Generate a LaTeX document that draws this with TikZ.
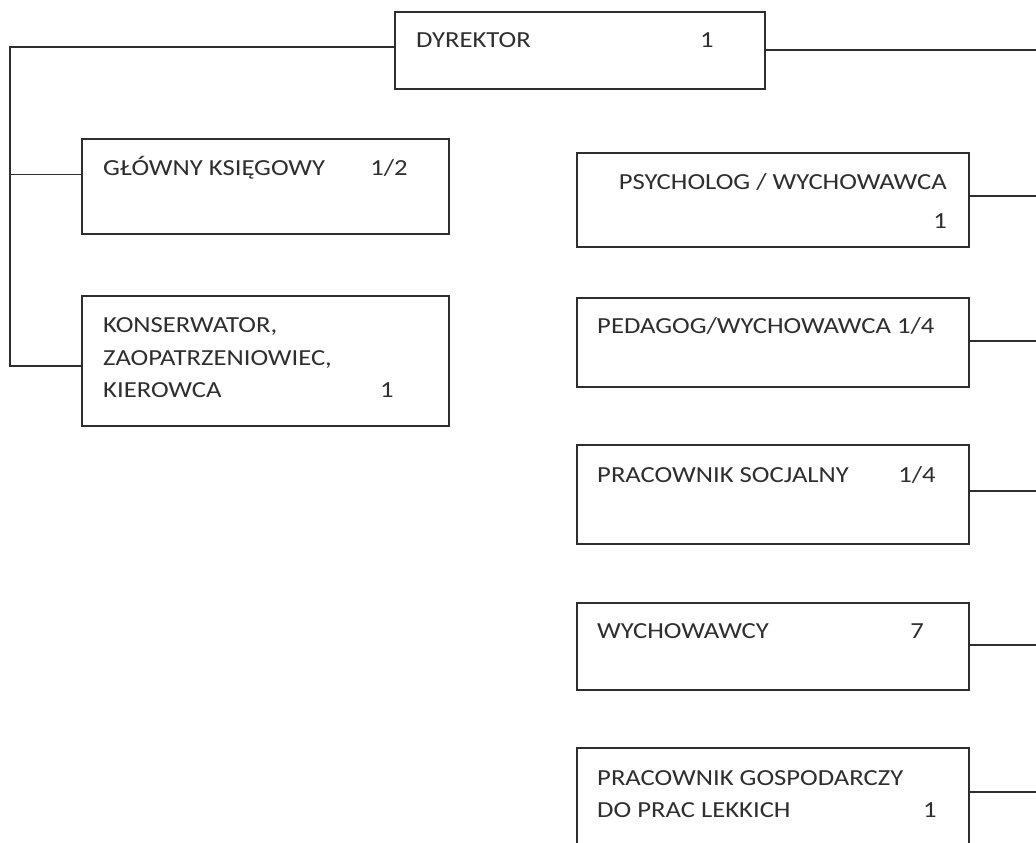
\documentclass[tikz,border=0pt]{standalone}
\usepackage{fontspec}
\setmainfont{Carlito}[FakeStretch=1.16]
\usetikzlibrary{positioning,calc}
\tikzset{>=latex}
\definecolor{ink}{HTML}{2E2E2E}

\begin{document}
\begin{tikzpicture}[x=1pt,y=-1pt,
    box/.style={draw=ink,line width=1.6pt,anchor=north west,inner sep=0pt},
    lbl/.style={anchor=base west,inner sep=0pt,text=ink,font=\fontsize{23}{32}\selectfont},
    num/.style={lbl,anchor=base},
    conn/.style={draw=ink,line width=1.6pt}]
  \useasboundingbox (0,0) rectangle (1036,843);
  \fill[white] (0,0) rectangle (1036,843);
  % boxes
  \node[box,minimum width=370,minimum height=77] (dyr) at (394,11) {};
  \node[box,minimum width=367,minimum height=95] (ksieg) at (81,138) {};
  \node[box,minimum width=367,minimum height=130] (kons) at (81,295) {};
  \node[box,minimum width=392,minimum height=94] (psych) at (576,152) {};
  \node[box,minimum width=392,minimum height=89] (pedag) at (576,297) {};
  \node[box,minimum width=392,minimum height=99] (socj) at (576,444) {};
  \node[box,minimum width=392,minimum height=87] (wych) at (576,602) {};
  \node[box,minimum width=392,minimum height=105] (gosp) at (576,747) {};
  % texts
  \node[lbl] (tdyr) at (416,48) {DYREKTOR};
  \node[num] (ndyr) at (707,48) {1};
  \node[lbl] (tksieg) at (103,175) {GŁÓWNY KSIĘGOWY};
  \node[num] (nksieg) at (389,175) {1/2};
  \node[lbl] (tkons1) at (103,332) {KONSERWATOR,};
  \node[lbl] (tkons2) at (103,365) {ZAOPATRZENIOWIEC,};
  \node[lbl] (tkons3) at (103,397) {KIEROWCA};
  \node[num] (nkons) at (387,397) {1};
  \node[lbl,anchor=base east] (tpsych) at (947,189) {PSYCHOLOG / WYCHOWAWCA};
  \node[lbl,anchor=base east] (npsych) at (947,228) {1};
  \node[lbl] (tpedag) at (597,333) {PEDAGOG/WYCHOWAWCA 1/4};
  \node[lbl] (tsocj) at (597,482) {PRACOWNIK SOCJALNY};
  \node[num] (nsocj) at (917,482) {1/4};
  \node[lbl] (twych) at (597,638) {WYCHOWAWCY};
  \node[num] (nwych) at (917,638) {7};
  \node[lbl] (tgosp1) at (597,785) {PRACOWNIK GOSPODARCZY};
  \node[lbl] (tgosp2) at (597,817) {DO PRAC LEKKICH};
  \node[num] (ngosp) at (930,817) {1};
  % connectors
  \coordinate (lb) at (10,46);
  \coordinate (rb) at (1045,0);
  \coordinate (k2) at ([yshift=-5pt]kons.west);
  \draw[conn] ([yshift=3pt]dyr.west) -| (lb |- k2) -- (k2);
  \draw[conn] ([yshift=12pt]ksieg.west) coordinate (k1) -- (k1 -| lb);
  \draw[conn] (dyr.east) -- (dyr.east -| rb);
  \foreach \n/\d in {psych/4,pedag/1.5,socj/3.5,wych/1.5,gosp/8.5}
    \draw[conn] ([yshift=\d pt]\n.east) coordinate (c\n) -- (c\n -| rb);
\end{tikzpicture}
\end{document}
